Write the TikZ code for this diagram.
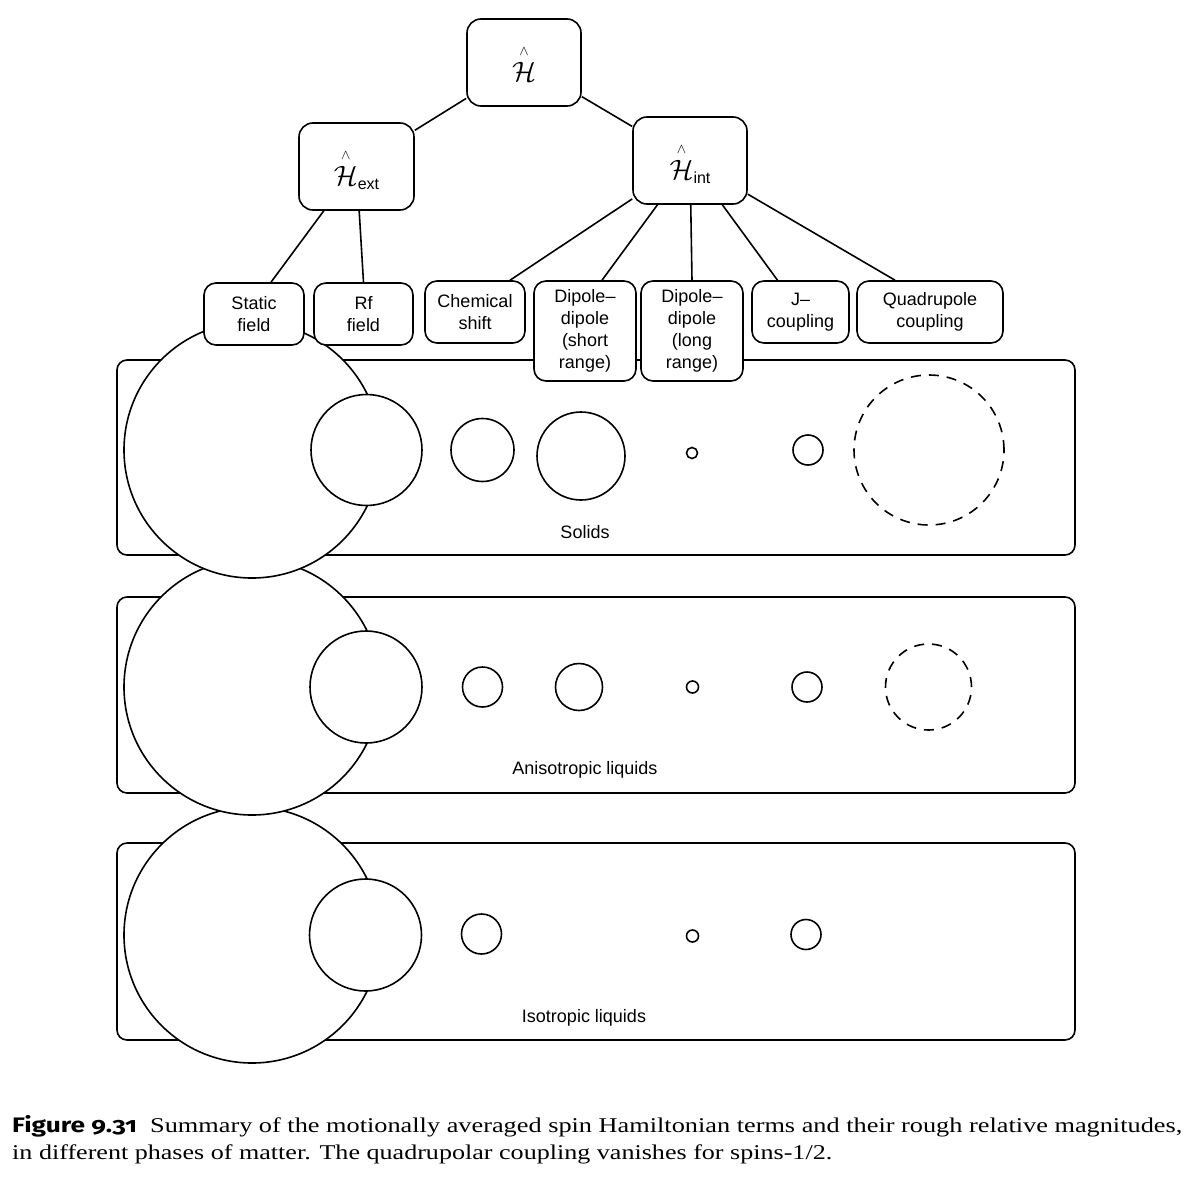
\RequirePackage{fix-cm}
\documentclass[tikz,border=0pt]{standalone}
\usepackage{fontspec}
\usepackage{graphicx}
\setmainfont{Liberation Sans}
\newfontfamily\capserif{Liberation Serif}
\newfontfamily\capsans[Numbers=OldStyle]{Fira Sans}
\usetikzlibrary{calc}
\newcommand\Hh[1]{\begin{tabular}[b]{@{}c@{}}{\fontsize{14}{14}\selectfont$\wedge$}\\[-6pt]$\mathcal{H}$\end{tabular}#1}
\tikzset{
  lw/.style={line width=1.6pt},
  hbox/.style={draw, lw, fill=white, rounded corners=14pt, inner sep=0pt, align=center, font=\fontsize{28}{32}\selectfont},
  tbox/.style={draw, lw, fill=white, rounded corners=12pt, inner sep=0pt, align=center, font=\fontsize{18}{22}\selectfont},
  panel/.style={draw, lw, rounded corners=10pt},
  disc/.style={draw, lw, fill=white},
  dashdisc/.style={draw, lw, dash pattern=on 10pt off 8pt},
  plabel/.style={font=\fontsize{18}{22}\selectfont, inner sep=0pt},
  link/.style={lw}
}
\begin{document}
\begin{tikzpicture}[x=1pt,y=-1pt]
\useasboundingbox (0,0) rectangle (1193,1186);
% ---- Isotropic liquids panel
\draw[panel] (117,843) rectangle (1075,1040);
\draw[disc] (252,935) circle[radius=128pt];
\draw[disc] (365.5,935) circle[radius=56pt];
\draw[disc] (481.5,934) circle[radius=20pt];
\draw[disc] (692.5,936) circle[radius=6pt];
\draw[disc] (806,934.5) circle[radius=15pt];
\node[plabel] (liso) at (584,1018) {Isotropic liquids};
% ---- Anisotropic liquids panel
\draw[panel] (117,597) rectangle (1075,793);
\draw[disc] (252,687) circle[radius=128pt];
\draw[disc] (366,687) circle[radius=56pt];
\draw[disc] (482.5,687) circle[radius=20pt];
\draw[disc] (579,687) circle[radius=23.5pt];
\draw[disc] (692.5,687) circle[radius=6pt];
\draw[disc] (807,687) circle[radius=15pt];
\draw[dashdisc] (928.5,687) circle[radius=43pt];
\node[plabel] (lani) at (585,770) {Anisotropic liquids};
% ---- Solids panel
\draw[panel] (117,360) rectangle (1075,555);
\draw[disc] (252,450) circle[radius=128pt];
\draw[disc] (366.5,450) circle[radius=55.5pt];
\draw[disc] (482.5,450) circle[radius=31.5pt];
\draw[disc] (581,456) circle[radius=44pt];
\draw[disc] (692,453) circle[radius=5.5pt];
\draw[disc] (808,450) circle[radius=15pt];
\draw[dashdisc] (929,450) circle[radius=75pt];
\node[plabel] (lsol) at (585,532) {Solids};
% ---- tree nodes
\node[hbox, minimum width=114pt, minimum height=87pt] (H) at (524,62.5) {\Hh{}};
\node[hbox, minimum width=115pt, minimum height=87pt] (ext) at (356.5,166.5) {\Hh{\raisebox{-4pt}{\fontsize{16}{16}\selectfont ext}}};
\node[hbox, minimum width=114pt, minimum height=87pt] (int) at (690,160.5) {\Hh{\raisebox{-4pt}{\fontsize{16}{16}\selectfont int}}};
\node[tbox, minimum width=100pt, minimum height=62pt] (static) at (254,314) {Static\\field};
\node[tbox, minimum width=99pt, minimum height=62pt] (rf) at (363.5,314) {Rf\\field};
\node[tbox, minimum width=100pt, minimum height=62pt] (chem) at (475,312) {Chemical\\shift};
\node[tbox, minimum width=102pt, minimum height=100pt] (dds) at (585,331) {Dipole–\\dipole\\(short\\range)};
\node[tbox, minimum width=102pt, minimum height=100pt] (ddl) at (692,331) {Dipole–\\dipole\\(long\\range)};
\node[tbox, minimum width=97pt, minimum height=62pt] (jc) at (800.5,312) {J–\\coupling};
\node[tbox, minimum width=146pt, minimum height=62pt] (quad) at (930,312) {Quadrupole\\coupling};
% ---- connectors
\draw[link] (H) -- (ext);
\draw[link] (H) -- (int);
\draw[link] (ext) -- ($(static.north)+(17,0)$);
\draw[link] (ext) -- (rf.north);
\draw[link] (int) -- ($(chem.north)+(35,0)$);
\draw[link] (int) -- ($(dds.north)+(17,0)$);
\draw[link] (int) -- (ddl.north);
\draw[link] (int) -- ($(jc.north)+(-23,0)$);
\draw[link] (int) -- ($(quad.north)+(-35,0)$);
% ---- caption
\node[anchor=base west, inner sep=0pt] (cap1) at (12,1132) {\resizebox{1170pt}{\height}{\fontsize{21}{27}\selectfont{\capsans\bfseries Figure 9.31}\hspace{0.5em}\capserif Summary of the motionally averaged spin Hamiltonian terms and their rough relative magnitudes,}};
\node[anchor=base west, inner sep=0pt] (cap2) at (12,1159) {\resizebox{820pt}{\height}{\fontsize{21}{27}\selectfont\capserif in different phases of matter. The quadrupolar coupling vanishes for spins-1/2.}};
\end{tikzpicture}
\end{document}
